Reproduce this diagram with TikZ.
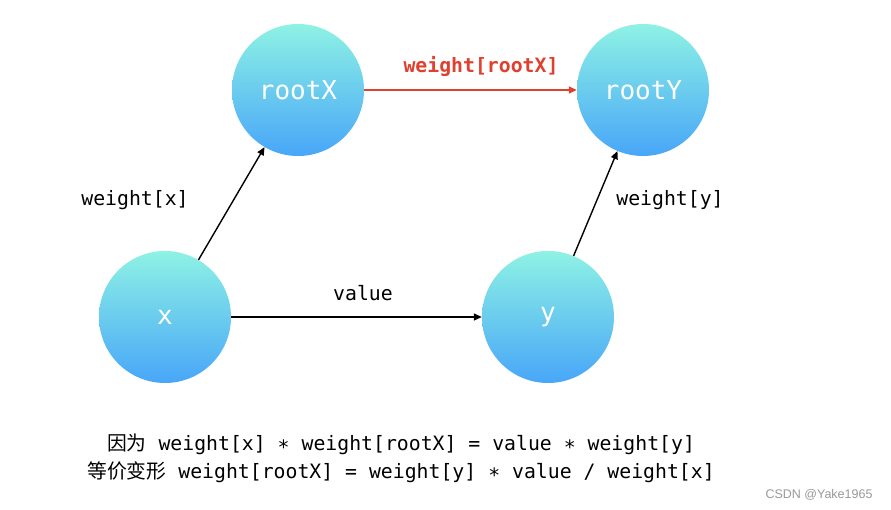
\documentclass[tikz,border=0pt]{standalone}
\usepackage{fontspec}
\setmonofont{DejaVu Sans Mono}
\setsansfont{Liberation Sans}
\newfontfamily\cjk{Noto Sans CJK SC}
\usetikzlibrary{arrows.meta}
\definecolor{topc}{HTML}{8EF2E4}
\definecolor{botc}{HTML}{48A6F8}
\definecolor{redc}{HTML}{E0412F}
\tikzset{
  ball/.style={circle, minimum size=132pt, inner sep=0pt, top color=topc, bottom color=botc, draw=none, text=white, font=\ttfamily\fontsize{26}{26}\selectfont},
  conn/.style={line width=1.4pt, -{Triangle[length=8pt,width=7pt]}},
  lbl/.style={font=\ttfamily\fontsize{19.8}{22}\selectfont, text=black},
}
\begin{document}
\begin{tikzpicture}[x=1pt,y=-1pt]
\useasboundingbox (0,0) rectangle (891,510);
\fill[white] (0,0) rectangle (891,510);
\node[ball] (rx) at (298,90) {rootX};
\node[ball] (ry) at (643,90) {rootY};
\node[ball] (x) at (165,317) {x};
\node[ball] (y) at (548,317) {y};
\draw[conn, draw=redc, fill=redc] (rx) -- (ry);
\draw[conn] (x) -- (rx);
\draw[conn] (y) -- (ry);
\draw[conn] (x) -- (y);
\node[lbl, text=redc, font=\ttfamily\bfseries\fontsize{19.8}{22}\selectfont] (lr) at (481,67) {weight[rootX]};
\node[lbl] (lx) at (135,200) {weight[x]};
\node[lbl] (ly) at (670,200) {weight[y]};
\node[lbl] (lv) at (363,293) {value};
\node[lbl, font=\ttfamily\fontsize{19.8}{22}\selectfont] (t1) at (401,444) {{\cjk 因为} weight[x] ∗ weight[rootX] = value ∗ weight[y]};
\node[lbl, font=\ttfamily\fontsize{19.8}{22}\selectfont] (t2) at (401,472) {{\cjk 等价变形} weight[rootX] = weight[y] ∗ value / weight[x]};
\node[font=\sffamily\fontsize{12.5}{14}\selectfont, text=gray!80] (wm) at (819,495) {CSDN @Yake1965};
\end{tikzpicture}
\end{document}
